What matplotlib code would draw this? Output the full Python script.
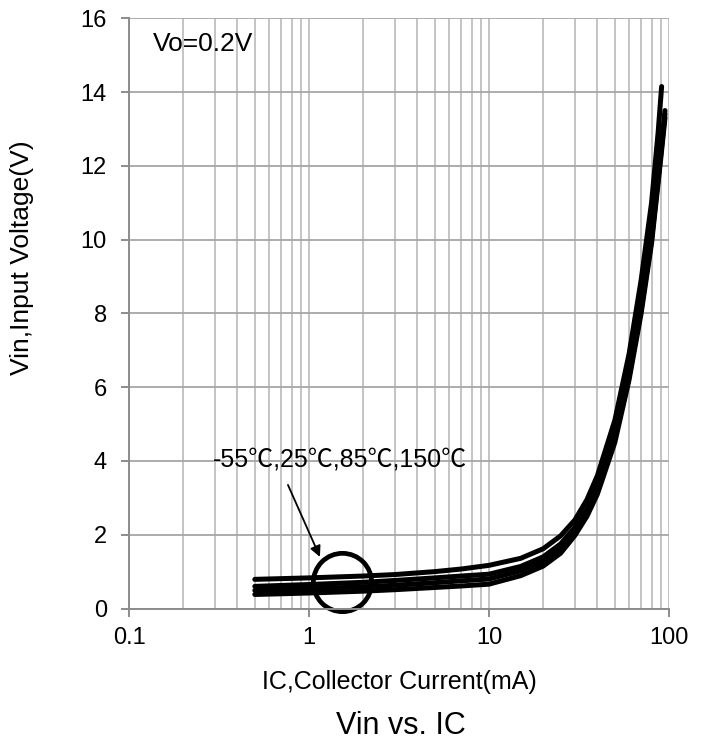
import numpy as np
import matplotlib
matplotlib.use("Agg")
import matplotlib.pyplot as plt
from matplotlib.ticker import LogLocator, FixedLocator, FixedFormatter

plt.rcParams['font.family'] = ['Liberation Sans', 'Noto Sans CJK SC', 'DejaVu Sans']

# curve with the highest Vin (ends a bit earlier)
ic_a = [0.5, 1, 2, 3, 5, 7, 10, 15, 20, 25, 30, 35, 40, 50, 60, 70, 80, 87, 91]
vin_a = [0.79, 0.83, 0.88, 0.92, 1.0, 1.07, 1.17, 1.36, 1.62, 1.97, 2.4, 2.95, 3.6, 5.1, 6.9, 8.9, 11.0, 12.9, 14.15]

# the three bundled curves
ic_b = [0.5, 1, 2, 3, 5, 7, 10, 15, 20, 25, 30, 35, 40, 50, 60, 70, 80, 90, 95]
vin_b = [0.60, 0.65, 0.71, 0.76, 0.83, 0.88, 0.93, 1.14, 1.40, 1.75, 2.2, 2.7, 3.3, 4.7, 6.4, 8.2, 10.1, 12.4, 13.5]
vin_c = [0.49, 0.53, 0.59, 0.63, 0.70, 0.75, 0.80, 1.02, 1.27, 1.62, 2.08, 2.6, 3.2, 4.6, 6.3, 8.1, 10.0, 12.3, 13.4]
vin_d = [0.38, 0.42, 0.47, 0.51, 0.57, 0.61, 0.66, 0.89, 1.15, 1.50, 1.98, 2.5, 3.1, 4.5, 6.2, 8.0, 9.9, 12.2, 13.3]

x_ticks = [0.1, 1, 10, 100]
x_labels = ['0.1', '1', '10', '100']
y_ticks = [0, 2, 4, 6, 8, 10, 12, 14, 16]

temp_label = '-55\u2103,25\u2103,85\u2103,150\u2103'

fig = plt.figure(figsize=(7.10, 7.42), dpi=100)
ax = fig.add_axes([129 / 710, 1 - 608.5 / 742, 540 / 710, 590.2 / 742])

ax.set_xscale('log')
ax.set_xlim(0.1, 100)
ax.set_ylim(0, 16)

# grid
ax.xaxis.set_major_locator(FixedLocator(x_ticks))
ax.xaxis.set_major_formatter(FixedFormatter(x_labels))
ax.xaxis.set_minor_locator(LogLocator(base=10, subs=np.arange(2, 10), numticks=20))
ax.xaxis.set_minor_formatter(FixedFormatter([]))
ax.set_yticks(y_ticks)
ax.grid(True, which='major', axis='x', color='#BFBFBF', lw=1.3)
ax.grid(True, which='minor', axis='x', color='#BFBFBF', lw=1.3)
ax.grid(True, which='major', axis='y', color='#A6A6A6', lw=1.3)
ax.set_axisbelow(True)

for s in ['top', 'right']:
    ax.spines[s].set_visible(False)
for s in ['left', 'bottom']:
    ax.spines[s].set_color('#8C8C8C')
    ax.spines[s].set_linewidth(1.4)

ax.tick_params(axis='both', which='major', direction='out', length=6, width=1.4,
               color='#8C8C8C', labelsize=17)
ax.tick_params(axis='x', which='major', pad=7)
ax.tick_params(axis='y', which='major', pad=10)
ax.tick_params(axis='x', which='minor', length=0)

# curves
lw = 3.6
ax.plot(ic_b, vin_d, color='black', lw=lw, solid_capstyle='round')
ax.plot(ic_b, vin_c, color='black', lw=lw, solid_capstyle='round')
ax.plot(ic_b, vin_b, color='black', lw=lw, solid_capstyle='round')
ax.plot(ic_a, vin_a, color='black', lw=lw, solid_capstyle='round')

# circle marking the bundle
ax.plot([1.52], [0.73], marker='o', markersize=42, markerfacecolor='none',
        markeredgecolor='black', markeredgewidth=3.4, clip_on=False)

ax.annotate('', xy=(1.15, 1.40), xytext=(0.764, 3.35),
            arrowprops=dict(arrowstyle='-|>', color='black', lw=1.3,
                            mutation_scale=16, shrinkA=0, shrinkB=0))
ax.text(0.294, 4.05, temp_label, fontsize=18, va='center', ha='left')
ax.text(0.135, 15.3, 'Vo=0.2V', fontsize=19, va='center', ha='left')

ax.set_xlabel('IC,Collector Current(mA)', fontsize=18, va='center')
ax.xaxis.set_label_coords(0.5, (608.5 - 682) / 590.2)
ax.set_ylabel('Vin,Input Voltage(V)', fontsize=19, va='center')
ax.yaxis.set_label_coords((22 - 129) / 540, 0.595)

fig.text(401 / 710, 1 - 726 / 742, 'Vin vs. IC', fontsize=22,
         ha='center', va='center')

fig.savefig('out.png', dpi=100)
